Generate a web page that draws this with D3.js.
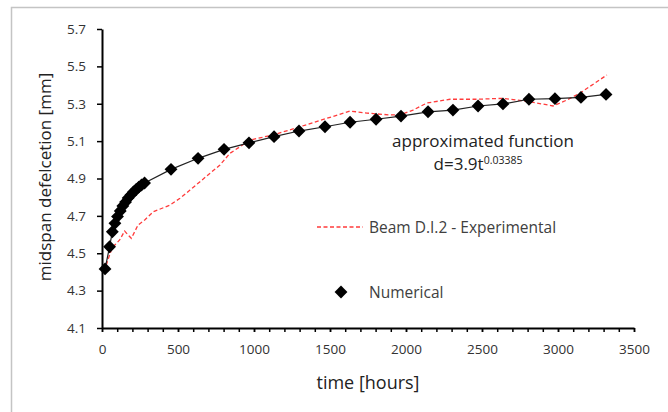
<!DOCTYPE html>
<html>
<head>
<meta charset="utf-8">
<script src="https://cdn.jsdelivr.net/npm/d3@7"></script>
<style>
  body { margin: 0; background: #fff; }
  svg { display: block; font-family: "Open Sans", sans-serif; }
</style>
</head>
<body>
<script>
// numerical model (diamonds)
var numT = [20, 50, 68, 85, 102, 120, 137, 155, 172, 190, 207, 225, 242, 260, 280,
  454, 632, 803, 967, 1132, 1296, 1467, 1632, 1803, 1967, 2145, 2309, 2474, 2638, 2809, 2980, 3151, 3316];
var numD = [4.416, 4.535, 4.615, 4.660, 4.696, 4.726, 4.753, 4.774, 4.796, 4.812, 4.828, 4.841, 4.854, 4.865, 4.876,
  4.949, 5.008, 5.056, 5.091, 5.124, 5.154, 5.177, 5.201, 5.217, 5.234, 5.257, 5.266, 5.288, 5.299, 5.324, 5.327, 5.334, 5.350];

// experimental curve (red dashed)
var expT = [28, 61, 84, 116, 149, 171, 193, 215, 237, 281, 338, 447, 513, 579, 645, 711, 776, 842, 908, 974,
  1125, 1303, 1480, 1632, 1743, 1895, 1961, 2046, 2138, 2289, 2467, 2638, 2816, 2967, 3059, 3145, 3322];
var expD = [4.437, 4.517, 4.544, 4.571, 4.619, 4.598, 4.580, 4.615, 4.651, 4.678, 4.722, 4.758, 4.794, 4.838, 4.883, 4.928, 4.972, 5.035, 5.070, 5.106,
  5.133, 5.177, 5.222, 5.261, 5.250, 5.240, 5.240, 5.266, 5.304, 5.324, 5.324, 5.329, 5.311, 5.288, 5.320, 5.357, 5.454];

var yTicks = [4.1, 4.3, 4.5, 4.7, 4.9, 5.1, 5.3, 5.5, 5.7];
var xTicks = [0, 500, 1000, 1500, 2000, 2500, 3000, 3500];

var W = 668, H = 412;
var svg = d3.select("body").append("svg").attr("width", W).attr("height", H);

// outer frame (only top and left visible)
svg.append("path")
  .attr("d", "M11.5,412 V7.5 H668")
  .attr("fill", "none").attr("stroke", "#c4c4c4").attr("stroke-width", 1.5);

var x = d3.scaleLinear().domain([0, 3500]).range([102, 634]);
var y = d3.scaleLinear().domain([4.1, 5.7]).range([328, 29]);

// y axis
var yAxis = svg.append("g").attr("transform", "translate(102,0)")
  .call(d3.axisLeft(y).tickValues(yTicks).tickFormat(d3.format(".1f")).tickSize(5).tickSizeOuter(0));
yAxis.select(".domain").attr("stroke-width", 2);
yAxis.selectAll(".tick line").attr("stroke-width", 1.5);
yAxis.selectAll("text").attr("font-size", 13.5).attr("fill", "#333").attr("x", -16)
  .attr("font-family", "'Open Sans', sans-serif");

// x axis with minor ticks
var xMinor = svg.append("g").attr("transform", "translate(0,328)")
  .call(d3.axisBottom(x).ticks(35).tickSize(4).tickFormat("").tickSizeOuter(0));
xMinor.select(".domain").remove();
xMinor.selectAll(".tick line").attr("stroke-width", 1.5);
var xAxis = svg.append("g").attr("transform", "translate(0,328)")
  .call(d3.axisBottom(x).tickValues(xTicks).tickFormat(d3.format("d")).tickSize(4).tickSizeOuter(0));
xAxis.select(".domain").attr("stroke-width", 2);
xAxis.selectAll(".tick line").attr("stroke-width", 1.5);
xAxis.selectAll("text").attr("font-size", 13.5).attr("fill", "#333").attr("y", 16)
  .attr("font-family", "'Open Sans', sans-serif");

// axis titles
svg.append("text").attr("x", 368).attr("y", 389).attr("text-anchor", "middle")
  .attr("font-size", 18).attr("fill", "#222").text("time [hours]");
svg.append("text").attr("transform", "translate(51,177) rotate(-90)").attr("text-anchor", "middle")
  .attr("font-size", 17).attr("fill", "#222").text("midspan defelcetion [mm]");

// experimental line
var expData = expT.map(function(t, i) { return [t, expD[i]]; });
svg.append("path").datum(expData)
  .attr("fill", "none").attr("stroke", "#ff3b3b").attr("stroke-width", 1.3)
  .attr("stroke-dasharray", "4,2.5")
  .attr("d", d3.line().x(function(d) { return x(d[0]); }).y(function(d) { return y(d[1]); }));

// numerical line + markers
var numData = numT.map(function(t, i) { return [t, numD[i]]; });
svg.append("path").datum(numData)
  .attr("fill", "none").attr("stroke", "#222").attr("stroke-width", 1.2)
  .attr("d", d3.line().x(function(d) { return x(d[0]); }).y(function(d) { return y(d[1]); }));

var diamond = d3.symbol().type(d3.symbolDiamond2).size(105);
svg.selectAll(".pt").data(numData).enter().append("path")
  .attr("class", "pt")
  .attr("transform", function(d) { return "translate(" + x(d[0]) + "," + y(d[1]) + ")"; })
  .attr("d", diamond).attr("fill", "#000");

// legend
svg.append("line").attr("x1", 317).attr("x2", 363).attr("y1", 227).attr("y2", 227)
  .attr("stroke", "#ff3b3b").attr("stroke-width", 1.3).attr("stroke-dasharray", "4,2.5");
svg.append("text").attr("x", 369).attr("y", 232.5).attr("font-size", 15.5).attr("fill", "#404040")
  .text("Beam D.I.2 - Experimental");
svg.append("path").attr("transform", "translate(341,292)").attr("d", diamond).attr("fill", "#000");
svg.append("text").attr("x", 369).attr("y", 297.5).attr("font-size", 15.5).attr("fill", "#404040")
  .text("Numerical");

// annotation
svg.append("text").attr("x", 483).attr("y", 147).attr("text-anchor", "middle")
  .attr("font-size", 17).attr("fill", "#222").text("approximated function");
var eq = svg.append("text").attr("x", 478).attr("y", 170).attr("text-anchor", "middle")
  .attr("font-size", 17).attr("fill", "#222");
eq.append("tspan").text("d=3.9t");
eq.append("tspan").attr("font-size", 10.5).attr("dy", -6).text("0.03385");
</script>
</body>
</html>
